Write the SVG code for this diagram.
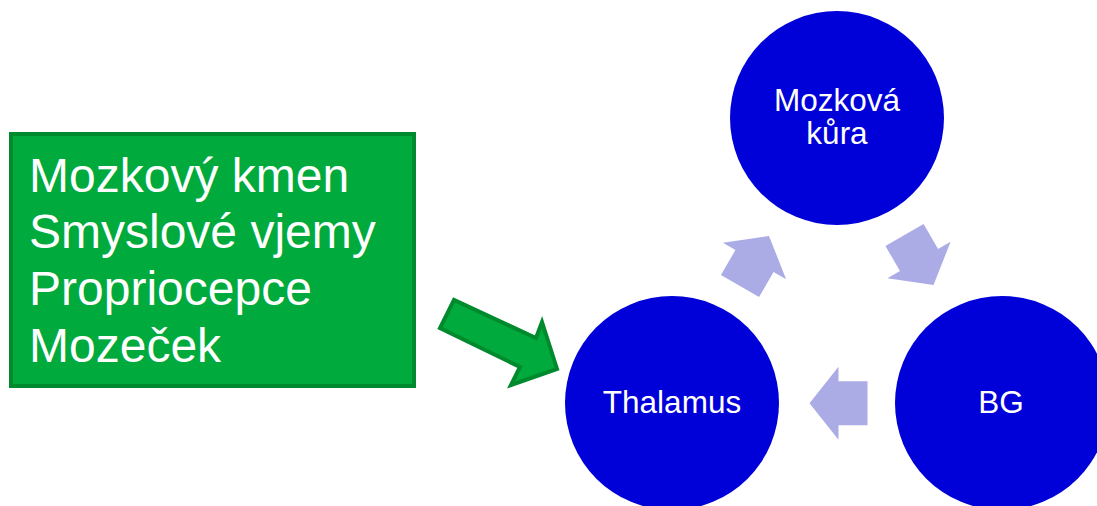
<svg xmlns="http://www.w3.org/2000/svg" width="1097" height="506" viewBox="0 0 1097 506">
<defs>
<style>
.circ{fill:#0000D8;}
.ct{font-family:"Liberation Sans",Arial,sans-serif;font-size:31.5px;fill:#ffffff;text-anchor:middle;}
.bt{font-family:"Liberation Sans",Arial,sans-serif;font-size:48px;fill:#ffffff;}
.cyc{fill:#ABABE6;}
</style>
<path id="ca" d="M29,0 L0,-36.5 L0,-22 L-29,-22 L-29,22 L0,22 L0,36.5 Z"/>
</defs>
<rect width="1097" height="506" fill="#ffffff"/>
<g id="connectors">
<polygon points="454,300 440,328 520,367 511,385 557,369 542,322 536,338" fill="#00AA3C" stroke="#008A2E" stroke-width="4" stroke-linejoin="miter"/>
<use href="#ca" class="cyc" transform="translate(754.5,261) rotate(-60)"/>
<use href="#ca" class="cyc" transform="translate(919,260) rotate(60)"/>
<use href="#ca" class="cyc" transform="translate(838.5,403.3) rotate(180)"/>
</g>
<g id="inputs">
<rect x="11" y="134" width="403" height="252" fill="#00AA3C" stroke="#008A2E" stroke-width="4"/>
<text class="bt" x="29" y="192">Mozkový kmen</text>
<text class="bt" x="29" y="248">Smyslové vjemy</text>
<text class="bt" x="29" y="305">Propriocepce</text>
<text class="bt" x="29" y="362">Mozeček</text>
</g>
<g id="cortex">
<circle class="circ" cx="837" cy="118" r="107"/>
<text class="ct" x="837" y="111">Mozková</text>
<text class="ct" x="837" y="144">kůra</text>
</g>
<g id="thalamus">
<circle class="circ" cx="672" cy="403" r="107"/>
<text class="ct" x="672" y="413">Thalamus</text>
</g>
<g id="bg">
<circle class="circ" cx="1002" cy="403" r="107"/>
<text class="ct" x="1001" y="413">BG</text>
</g>
</svg>
